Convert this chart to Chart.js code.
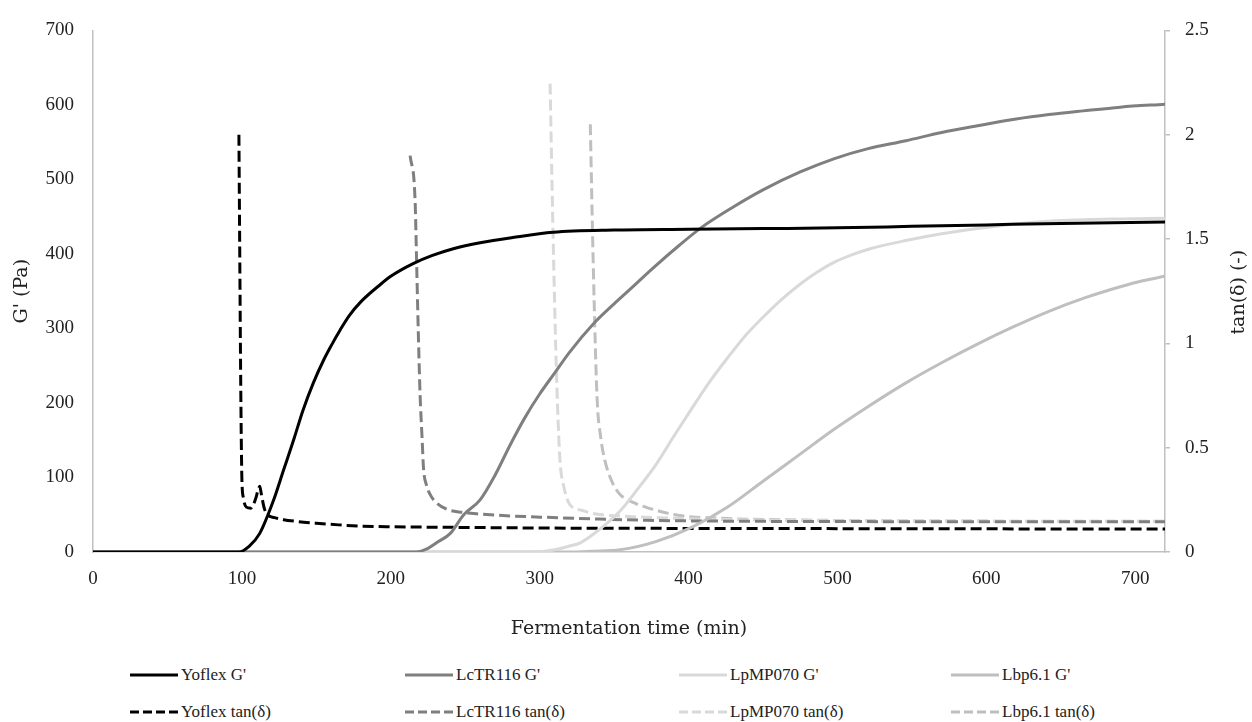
<!DOCTYPE html>
<html>
<head>
<meta charset="utf-8">
<script src="https://cdn.jsdelivr.net/npm/chart.js@4.4.0/dist/chart.umd.min.js"></script>
<style>
html,body{margin:0;padding:0;background:#fff;}
#wrap{position:relative;width:1252px;height:722px;overflow:hidden;}
#box{position:absolute;left:0;top:0;width:1252px;height:655px;}
#legend{position:absolute;left:0;top:655px;width:1252px;height:67px;font-family:'Liberation Serif',serif;font-size:17px;color:#222;}
.item{position:absolute;display:flex;align-items:center;height:22px;white-space:nowrap;}
.item svg{margin-right:3px;}
</style>
</head>
<body>
<div id="wrap">
  <div id="box"><canvas id="rheo"></canvas></div>
  <div id="legend"></div>
</div>
<script>
// G' (Pa), left axis
const yoflexGTime=[0,98,105,112,121,128,135,141,148,155,160,166,172,180,193,200,215,228,242,260,282,309,350,400,450,500,550,600,650,720];
const yoflexG=[0,0,8,25,68,110,152,190,227,258,277,298,317,336,359,370,387,398,407,415,422,429,432,433,434,435,437,439,441,443];

const lcGTime=[0,217,225,232,240,249,260,270,280,290,300,310,320,336,350,361,375,394,409,430,450,475,498,520,546,570,594,620,642,665,690,720];
const lcG=[0,0,5,14,25,50,70,103,143,180,212,240,268,306,333,353,379,412,436,463,486,510,528,541,552,563,572,581,587,592,597,601];

const lpGTime=[0,295,310,320,327,340,354,366,378,390,402,414,426,438,450,462,474,486,498,510,522,546,570,594,618,642,666,690,720];
const lpG=[0,0,3,8,12,30,55,85,117,155,192,228,260,290,315,338,358,375,389,399,407,418,427,434,440,444,446,447,448];

const lbpGTime=[0,320,335,354,378,402,426,450,474,498,522,546,570,594,618,642,666,690,705,720];
const lbpG=[0,0,1,3,14,33,60,95,130,165,197,227,254,279,302,323,341,356,364,370];

// tan(delta), right axis
const yoflexTanTime=[98,98.5,99,99.5,100,101,103,106,109,111,112,113,115,117,122,128,135,150,165,180,200,246,300,400,500,600,720];
const yoflexTan=[2.0,1.5,1.0,0.6,0.35,0.26,0.215,0.21,0.25,0.3,0.315,0.28,0.21,0.18,0.165,0.155,0.148,0.138,0.13,0.124,0.121,0.118,0.115,0.113,0.112,0.111,0.11];

const lcTanTime=[213,216.3,217.4,218.5,219.7,221,222,224,226.4,230,237.6,248,260,280,305,340,372,420,500,600,720];
const lcTan=[1.9,1.69,1.375,1.05,0.75,0.55,0.4,0.32,0.276,0.24,0.205,0.19,0.182,0.173,0.166,0.158,0.152,0.148,0.146,0.145,0.145];

const lpTanTime=[307,308.5,310.5,312,313.7,316,320,328,338,360,400,450,500,600,720];
const lpTan=[2.245,1.69,1.06,0.7,0.433,0.32,0.23,0.2,0.182,0.17,0.16,0.153,0.15,0.147,0.146];

const lbpTanTime=[334,336,338.5,341,344,349,354,362,372,394,420,460,520,600,720];
const lbpTan=[2.05,1.375,0.747,0.55,0.433,0.33,0.276,0.24,0.213,0.175,0.162,0.155,0.15,0.148,0.147];

const seriesNames=["Yoflex G'","LcTR116 G'","LpMP070 G'","Lbp6.1 G'","Yoflex tan(δ)","LcTR116 tan(δ)","LpMP070 tan(δ)","Lbp6.1 tan(δ)"];
const seriesColors=['#000000','#7f7f7f','#d9d9d9','#bfbfbf'];

const xMax=720, gMax=700, tanMax=2.5;
const axisGrey='#c0c0c0', textCol='#222';

const pts=(t,v)=>t.map((x,i)=>({x:x,y:v[i]}));
const dash=[11,5];

function ds(label,t,v,c,axis,dashed){
  return {label:label,data:pts(t,v),borderColor:c,backgroundColor:c,borderWidth:3,
    borderDash:dashed?dash:[],pointRadius:0,cubicInterpolationMode:'monotone',yAxisID:axis,fill:false};
}

const datasets=[
  ds(seriesNames[0],yoflexGTime,yoflexG,seriesColors[0],'y',false),
  ds(seriesNames[1],lcGTime,lcG,seriesColors[1],'y',false),
  ds(seriesNames[2],lpGTime,lpG,seriesColors[2],'y',false),
  ds(seriesNames[3],lbpGTime,lbpG,seriesColors[3],'y',false),
  ds(seriesNames[4],yoflexTanTime,yoflexTan,seriesColors[0],'y2',true),
  ds(seriesNames[5],lcTanTime,lcTan,seriesColors[1],'y2',true),
  ds(seriesNames[6],lpTanTime,lpTan,seriesColors[2],'y2',true),
  ds(seriesNames[7],lbpTanTime,lbpTan,seriesColors[3],'y2',true),
];

Chart.defaults.font.family="'Liberation Serif', serif";
Chart.defaults.font.size=19;
Chart.defaults.color=textCol;

// right axis title reads bottom-to-top like the left one
const rightTitle={id:'rightTitle',afterDraw(chart){
  const {ctx,chartArea}=chart; const s=chart.scales.y2;
  ctx.save(); ctx.font="19px 'DejaVu Serif'"; ctx.fillStyle=textCol;
  ctx.textAlign='center'; ctx.textBaseline='middle';
  ctx.translate(s.right-13,(chartArea.top+chartArea.bottom)/2+1); ctx.rotate(-Math.PI/2);
  ctx.fillText('tan(δ) (-)',0,0); ctx.restore();
}};

const chart=new Chart(document.getElementById('rheo'),{
  type:'line',
  data:{datasets:datasets},
  options:{responsive:true,maintainAspectRatio:false,animation:false,
    layout:{padding:{top:21,left:0,right:0,bottom:0}},
    plugins:{legend:{display:false},tooltip:{enabled:false}},
    scales:{
      x:{type:'linear',min:0,max:xMax,
        afterFit:s=>{s.height=103;},
        ticks:{stepSize:100,includeBounds:false,padding:16,maxRotation:0},
        grid:{display:false,drawTicks:false},
        border:{display:true,color:axisGrey,width:1.5},
        title:{display:true,text:'Fermentation time (min)',font:{family:"'DejaVu Serif'",size:19},padding:{top:0,bottom:15},color:textCol}},
      y:{position:'left',min:0,max:gMax,
        afterFit:s=>{s.width=93;},
        ticks:{stepSize:100,padding:19},
        grid:{display:false,drawTicks:false},
        border:{display:true,color:axisGrey,width:1.5},
        title:{display:true,text:"G' (Pa)",font:{family:"'DejaVu Serif'",size:19},padding:{top:11,bottom:0},color:textCol}},
      y2:{position:'right',min:0,max:tanMax,
        afterFit:s=>{s.width=87;},
        ticks:{stepSize:0.5,padding:15,callback:v=>String(+v.toFixed(1))},
        grid:{display:true,drawOnChartArea:false,drawTicks:true,tickLength:5,color:axisGrey,lineWidth:1.5},
        border:{display:true,color:axisGrey,width:1.5},
        title:{display:false}}
    }
  },
  plugins:[rightTitle]
});

// legend laid out on a 4 x 2 grid like the original
const colX=[130,405,679,951], rowMid=[20,57];
const leg=document.getElementById('legend');
chart.data.datasets.forEach((d,i)=>{
  const el=document.createElement('div'); el.className='item';
  el.style.left=colX[i%4]+'px'; el.style.top=(rowMid[Math.floor(i/4)]-11)+'px';
  const da=d.borderDash.length?'stroke-dasharray="9 4"':'';
  el.innerHTML='<svg width="48" height="8"><line x1="0" y1="4" x2="48" y2="4" stroke="'+d.borderColor+'" stroke-width="3" '+da+'/></svg><span>'+d.label+'</span>';
  leg.appendChild(el);
});
</script>
</body>
</html>
